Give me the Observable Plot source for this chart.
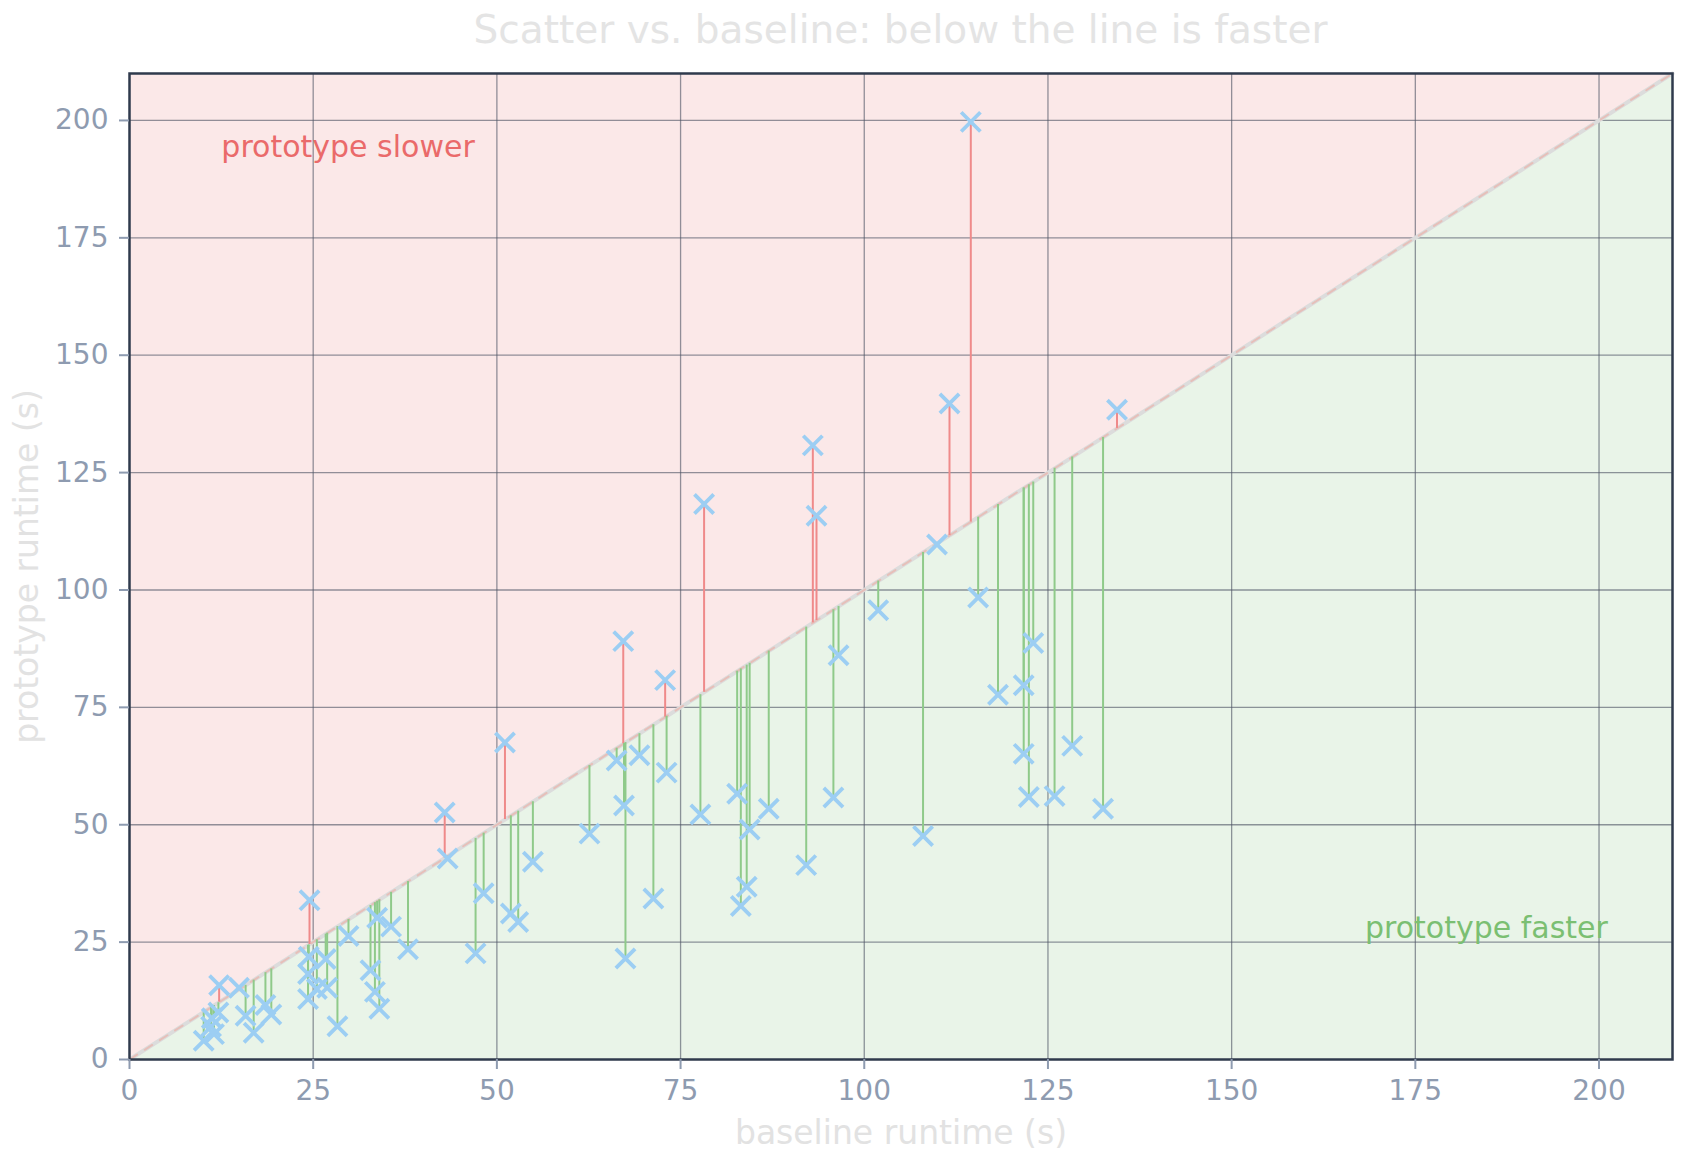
<!DOCTYPE html>
<html>
<head>
<meta charset="utf-8">
<script src="https://cdn.jsdelivr.net/npm/d3@7"></script>
<script src="https://cdn.jsdelivr.net/npm/@observablehq/plot@0.6"></script>
<style>
  html, body { margin: 0; padding: 0; background: #ffffff; }
  #title {
    height: 60px; line-height: 60px;
    padding-left: 129px; padding-right: 12px; width: 1543px;
    text-align: center; font-family: "DejaVu Sans", sans-serif;
    font-size: 39px; color: #e4e4e4; white-space: nowrap;
  }
  #chart svg { display: block; }
</style>
</head>
<body>
<div id="title">Scatter vs. baseline: below the line is faster</div>
<div id="chart"></div>
<script>
// ---- data ----
const baseline = [
  10.1, 11.1, 11.5, 11.2, 12.1, 12.2, 14.9, 15.8, 16.9, 18.5,
  19.3, 24.5, 24.4, 24.3, 24.3, 25.5, 26.7, 26.9, 28.3, 29.8,
  32.8, 33.7, 33.4, 34.0, 35.6, 37.9, 42.9, 43.3, 47.1, 48.2,
  51.1, 51.9, 52.9, 54.9, 62.6, 66.3, 67.2, 67.3, 67.5, 69.4,
  71.3, 72.9, 73.1, 77.7, 78.2, 82.7, 83.2, 84.0, 84.4, 87.0,
  92.1, 93.0, 93.5, 95.8, 96.5, 101.9, 108.0, 109.9, 111.6, 114.5,
  115.5, 118.2, 121.7, 121.7, 122.4, 123.0, 125.9, 128.3, 132.5, 134.4
];
const prototype = [
  4.0, 7.0, 5.4, 8.8, 10.0, 15.8, 15.3, 9.3, 5.7, 11.6,
  9.6, 33.9, 21.9, 18.2, 12.9, 15.0, 21.4, 15.3, 7.1, 26.3,
  19.0, 30.2, 14.4, 10.8, 28.3, 23.5, 52.6, 42.8, 22.6, 35.4,
  67.5, 31.1, 29.3, 42.1, 48.1, 63.7, 89.1, 54.1, 21.5, 64.8,
  34.3, 80.8, 61.1, 52.2, 118.3, 56.6, 32.7, 36.8, 49.0, 53.4,
  41.4, 130.8, 115.8, 55.8, 86.1, 95.7, 47.6, 109.7, 139.7, 199.7,
  98.4, 77.7, 79.7, 65.1, 55.9, 88.7, 56.1, 66.8, 53.4, 138.4
];
const axisDomain = [0, 210];
const tickValues = [0, 25, 50, 75, 100, 125, 150, 175, 200];
const gridValues = [25, 50, 75, 100, 125, 150, 175, 200];
const xLabel = "baseline runtime (s)";
const yLabel = "prototype runtime (s)";
const slowerLabel = ["prototype slower"];
const fasterLabel = ["prototype faster"];
const slowerPos = [12.5, 194.2];
const fasterPos = [201.2, 28.0];

// ---- tables built from the arrays ----
const pts = baseline.map((b, i) => ({b, p: prototype[i]}));
const slowerPts = pts.filter(d => d.p > d.b);
const fasterPts = pts.filter(d => d.p <= d.b);
const edge = axisDomain.map(v => ({v}));
const domainTop = axisDomain[1];
const domainBottom = axisDomain[0];

const tickColor = "#8e9bb0";

const chart = Plot.plot({
  width: 1684,
  height: 1103,
  marginLeft: 129,
  marginRight: 12,
  marginTop: 13,
  marginBottom: 104,
  x: {domain: axisDomain},
  y: {domain: axisDomain},
  style: {fontFamily: "DejaVu Sans, sans-serif", background: "#ffffff"},
  marks: [
    // region shading
    Plot.areaY(edge, {x: "v", y1: "v", y2: () => domainTop, fill: "#fbe8e8"}),
    Plot.areaY(edge, {x: "v", y1: () => domainBottom, y2: "v", fill: "#e9f4e8"}),
    // grid
    Plot.gridX({ticks: gridValues, stroke: "#4f5566", strokeOpacity: 0.62, strokeWidth: 1.3}),
    Plot.gridY({ticks: gridValues, stroke: "#4f5566", strokeOpacity: 0.62, strokeWidth: 1.3}),
    // diagonal y = x
    Plot.line(edge, {x: "v", y: "v", stroke: "#dcdcdc", strokeWidth: 4}),
    Plot.line(edge, {x: "v", y: "v", stroke: "#e8b8b0", strokeWidth: 2, strokeDasharray: "9,9", strokeOpacity: 0.8}),
    // connectors to the diagonal
    Plot.ruleX(slowerPts, {x: "b", y1: "p", y2: "b", stroke: "#ef8a8a", strokeWidth: 2}),
    Plot.ruleX(fasterPts, {x: "b", y1: "p", y2: "b", stroke: "#8fca8a", strokeWidth: 2}),
    // markers
    Plot.dot(pts, {x: "b", y: "p", symbol: "times", r: 8.8, fill: "none", stroke: "#9ccef3", strokeWidth: 3.8}),
    // annotations
    Plot.text(slowerLabel, {x: () => slowerPos[0], y: () => slowerPos[1], text: d => d, textAnchor: "start", fontSize: 30, fill: "#ea6a6a"}),
    Plot.text(fasterLabel, {x: () => fasterPos[0], y: () => fasterPos[1], text: d => d, textAnchor: "end", fontSize: 30, fill: "#7bbf72"}),
    // frame
    Plot.frame({stroke: "#2f3a4c", strokeWidth: 2.5}),
    // axes
    Plot.axisX({ticks: tickValues, tickSize: 10, tickPadding: 11, fontSize: 28, label: null, color: tickColor, strokeWidth: 2}),
    Plot.axisY({ticks: tickValues, tickSize: 10, tickPadding: 11, fontSize: 28, label: null, color: tickColor, strokeWidth: 2}),
    // axis titles
    Plot.text([xLabel], {frameAnchor: "bottom", text: d => d, dy: 74, fontSize: 33, fill: "#e2e2e2", lineAnchor: "middle", textAnchor: "middle"}),
    Plot.text([yLabel], {frameAnchor: "left", text: d => d, dx: -102, rotate: -90, fontSize: 33, fill: "#e2e2e2", lineAnchor: "middle", textAnchor: "middle"})
  ]
});
document.getElementById("chart").appendChild(chart);
</script>
</body>
</html>
